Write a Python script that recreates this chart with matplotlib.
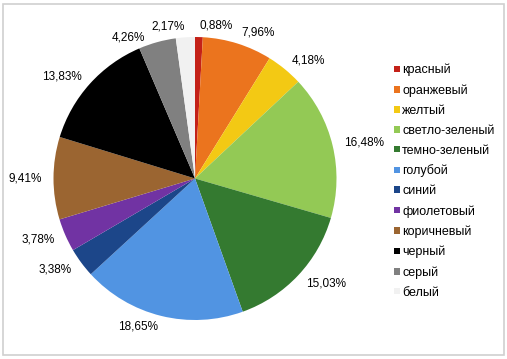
import numpy as np
import matplotlib
matplotlib.use("Agg")
import matplotlib.pyplot as plt
from matplotlib.patches import Rectangle

names = ["красный", "оранжевый", "желтый", "светло-зеленый", "темно-зеленый",
         "голубой", "синий", "фиолетовый", "коричневый", "черный", "серый", "белый"]
values = [0.88, 7.96, 4.18, 16.48, 15.03, 18.65, 3.38, 3.78, 9.41, 13.83, 4.26, 2.17]
colors = ["#C42118", "#EB741E", "#F3C914", "#93C955", "#347A30", "#5194E2",
          "#1C4689", "#7133A3", "#9B6531", "#000000", "#808080", "#F1F1F1"]

plt.rcParams['font.family'] = ['Liberation Sans', 'DejaVu Sans']

fig = plt.figure(figsize=(5.07, 3.59), dpi=100)
fig.patches.append(Rectangle((3/507, 4/359), 501/507, 351/359, transform=fig.transFigure,
                             fill=False, edgecolor="#D0D0D0", linewidth=1.2))

cx, cy, R = 195, 178.5, 141.5
ax = fig.add_axes([(cx - R) / 507, (359 - cy - R) / 359, 2 * R / 507, 2 * R / 359])
labels = [f"{v:.2f}%".replace(".", ",") for v in values]
wedges, texts = ax.pie(values, colors=colors, startangle=90, counterclock=False,
                       labels=labels, labeldistance=1.08,
                       wedgeprops=dict(linewidth=0),
                       textprops=dict(fontsize=8.5, color="#000000"))
# nudge the crowded grey label counter-clockwise, as in the original
w = wedges[10]
ang = np.deg2rad((w.theta1 + w.theta2) / 2 + 10)
texts[10].set_position((1.1 * np.cos(ang), 1.1 * np.sin(ang)))
texts[10].set_ha('center')

ax.set_xlim(-1, 1)
ax.set_ylim(-1, 1)
ax.set_aspect('equal')

leg = fig.legend(wedges, names, loc="upper left", bbox_to_anchor=(394/507, 1 - 64/359),
                 frameon=False, fontsize=9, handlelength=0.45, handleheight=0.45,
                 handletextpad=0.2, labelspacing=0.63, borderaxespad=0, borderpad=0)

fig.savefig("out.png", dpi=100)
